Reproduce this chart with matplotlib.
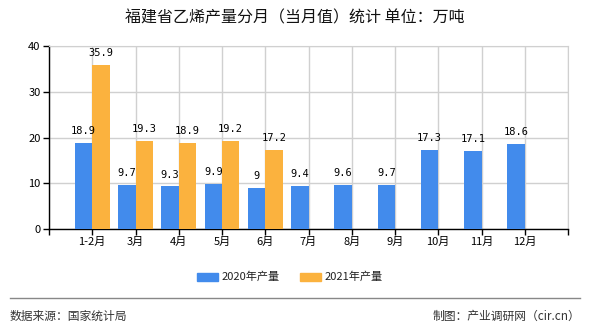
import matplotlib
matplotlib.use("Agg")
import matplotlib.pyplot as plt
from matplotlib.patches import Rectangle
from matplotlib.lines import Line2D
import numpy as np

plt.rcParams['font.family'] = ['Noto Sans CJK SC', 'DejaVu Sans']

categories = ['1-2月', '3月', '4月', '5月', '6月', '7月', '8月', '9月', '10月', '11月', '12月']
values_2020 = [18.9, 9.7, 9.3, 9.9, 9, 9.4, 9.6, 9.7, 17.3, 17.1, 18.6]
values_2021 = [35.9, 19.3, 18.9, 19.2, 17.2]
labels_2020 = ['18.9', '9.7', '9.3', '9.9', '9', '9.4', '9.6', '9.7', '17.3', '17.1', '18.6']
labels_2021 = ['35.9', '19.3', '18.9', '19.2', '17.2']
series_names = ['2020年产量', '2021年产量']
title = '福建省乙烯产量分月（当月值）统计 单位：万吨'
source = '数据来源：国家统计局'
maker = '制图：产业调研网（cir.cn）'
yticks = [0, 10, 20, 30, 40]

c20 = '#428BEC'
c21 = '#FBB23E'

fig = plt.figure(figsize=(5.9, 3.3), dpi=100)
ax = fig.add_axes([49/590, 1-229/330, (568-49)/590, (229-46)/330])

x = np.arange(len(categories))
w = 0.4
ax.bar(x[:len(values_2020)] - w/2, values_2020, width=w, color=c20, zorder=3)
ax.bar(x[:len(values_2021)] + w/2, values_2021, width=w, color=c21, zorder=3)

for i, (v, s) in enumerate(zip(values_2020, labels_2020)):
    ax.annotate(s, (x[i] - w/2, v), xytext=(0, 5), textcoords='offset points',
                ha='center', va='bottom', fontsize=7.5, family='DejaVu Sans Mono', zorder=4)
for i, (v, s) in enumerate(zip(values_2021, labels_2021)):
    ax.annotate(s, (x[i] + w/2, v), xytext=(0, 5), textcoords='offset points',
                ha='center', va='bottom', fontsize=7.5, family='DejaVu Sans Mono', zorder=4)

ax.set_xlim(-1, len(categories))
ax.set_ylim(0, 40)
ax.set_yticks(yticks)
ax.set_xticks(np.arange(-1, len(categories) + 1))
ax.set_xticklabels([''] + categories + [''])
ax.tick_params(axis='x', length=4, width=1, color='black', labelsize=8, pad=2)
ax.tick_params(axis='y', length=4, width=1, color='black', labelsize=8, pad=2)
ax.grid(True, color='#D0D0D0', linewidth=1, zorder=0)
for sp in ['top', 'right']:
    ax.spines[sp].set_color('#D0D0D0')
for sp in ['left', 'bottom']:
    ax.spines[sp].set_color('black')
    ax.spines[sp].set_linewidth(1)

fig.text(0.5, 1-18/330, title, ha='center', va='center', fontsize=11.5, color='#111111')

# legend
ly = 1 - 277/330
fig.patches.append(Rectangle((197/590, ly - 4/330), 21/590, 8/330, transform=fig.transFigure, color=c20))
fig.text(222/590, ly, series_names[0], ha='left', va='center', fontsize=8, color='#222222')
fig.patches.append(Rectangle((300/590, ly - 4/330), 21/590, 8/330, transform=fig.transFigure, color=c21))
fig.text(325/590, ly, series_names[1], ha='left', va='center', fontsize=8, color='#222222')

fig.lines.append(Line2D([10/590, 580/590], [1-298/330, 1-298/330], transform=fig.transFigure,
                        color='#888888', linewidth=1))
fig.text(10/590, 1-316/330, source, ha='left', va='center', fontsize=8.5, color='#333333')
fig.text(580/590, 1-316/330, maker, ha='right', va='center', fontsize=8.5, color='#333333')

fig.savefig('out.png', dpi=100)
